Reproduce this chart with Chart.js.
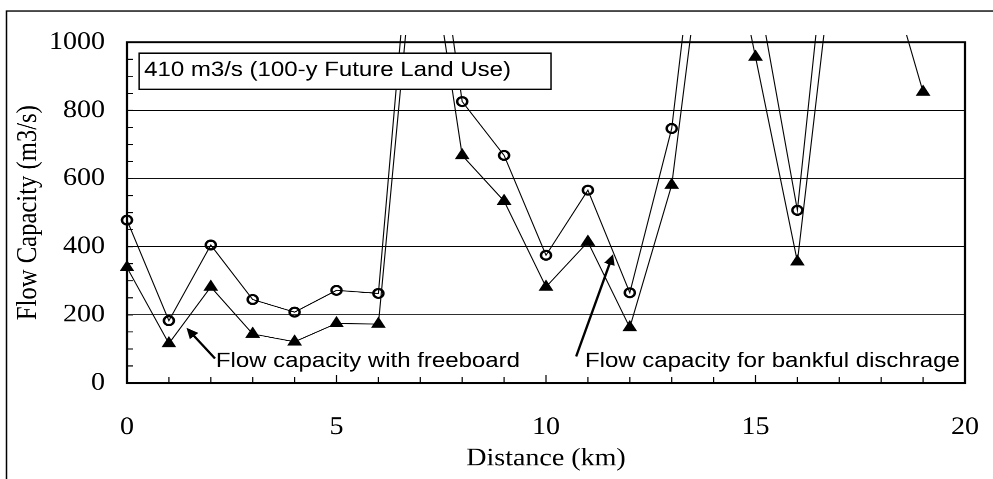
<!DOCTYPE html>
<html>
<head>
<meta charset="utf-8">
<title>Flow capacity</title>
<script src="https://cdn.jsdelivr.net/npm/chart.js@4/dist/chart.umd.min.js"></script>
<style>
  html, body { margin: 0; padding: 0; background: #fff; }
  #wrap { width: 993px; height: 479px; overflow: hidden; }
  /* the chart is laid out taller and squeezed to the window height */
  #squash { transform: scale(1, 0.8805); transform-origin: 0 0; }
</style>
</head>
<body>
<div id="wrap"><div id="squash"><canvas id="flow" width="993" height="544"></canvas></div></div>
<script>
// distance along the channel (km)
const distanceKm = [0, 1, 2, 3, 4, 5, 6, 7, 8, 9, 10, 11, 12, 13, 14, 15, 16, 17, 18, 19];
// capacity for bankful discharge (m3/s), open circles
const bankfulCapacity = [478, 183, 405, 245, 208, 272, 263, 1680, 826, 668, 375, 566, 265, 747, 1785, 1190, 507, 1673, 1500, 1100];
// capacity with freeboard (m3/s), filled triangles
const freeboardCapacity = [339, 116, 282, 144, 121, 175, 173, 1480, 668, 534, 282, 414, 163, 581, 1550, 957, 356, 1410, 1278, 854];

const yTicks = [0, 200, 400, 600, 800, 1000];
const xTicks = [0, 5, 10, 15, 20];

const noteText = "410 m3/s (100-y Future Land Use)";
const freeboardLabel = "Flow capacity with freeboard";
const bankfulLabel = "Flow capacity for bankful dischrage";

const serif = "'Liberation Serif', 'Times New Roman', serif";
const sans = "'Liberation Sans', Arial, sans-serif";

function toPoints(values) {
  return distanceKm.map((d, i) => ({ x: d, y: values[i] }));
}

function arrow(ctx, x1, y1, x2, y2) {
  const ang = Math.atan2(y2 - y1, x2 - x1);
  const head = 12, half = 5.5;
  ctx.beginPath();
  ctx.moveTo(x1, y1);
  ctx.lineTo(x2 - Math.cos(ang) * head * 0.8, y2 - Math.sin(ang) * head * 0.8);
  ctx.lineWidth = 2.4;
  ctx.stroke();
  ctx.beginPath();
  ctx.moveTo(x2, y2);
  ctx.lineTo(x2 - Math.cos(ang) * head - Math.sin(ang) * half, y2 - Math.sin(ang) * head + Math.cos(ang) * half);
  ctx.lineTo(x2 - Math.cos(ang) * head + Math.sin(ang) * half, y2 - Math.sin(ang) * head - Math.cos(ang) * half);
  ctx.closePath();
  ctx.fill();
}

// frame, inner tick marks, note box and the two arrow labels
const decorations = {
  id: 'decorations',
  beforeDraw(chart) {
    const ctx = chart.ctx;
    ctx.save();
    ctx.fillStyle = '#fff';
    ctx.fillRect(0, 0, chart.width, chart.height);
    ctx.restore();
  },
  afterDatasetsDraw(chart) {
    const { ctx, chartArea: a, scales: { x, y } } = chart;
    ctx.save();
    ctx.strokeStyle = '#000';
    ctx.fillStyle = '#000';

    // outer frame
    ctx.lineWidth = 1.5;
    ctx.beginPath();
    ctx.moveTo(6.5, chart.height);
    ctx.lineTo(6.5, 12.5);
    ctx.lineTo(chart.width, 12.5);
    ctx.stroke();

    // plot border
    ctx.lineWidth = 2.2;
    ctx.strokeRect(a.left, a.top, a.right - a.left, a.bottom - a.top);

    // tick marks inside the plot
    ctx.lineWidth = 1.2;
    ctx.beginPath();
    for (let v = 50; v < 1000; v += 50) {
      const py = y.getPixelForValue(v);
      ctx.moveTo(a.left, py);
      ctx.lineTo(a.left + 6, py);
    }
    for (let d = 1; d < 20; d++) {
      const px = x.getPixelForValue(d);
      ctx.moveTo(px, a.bottom);
      ctx.lineTo(px, a.bottom - (d % 5 === 0 ? 9 : 7));
    }
    ctx.stroke();

    // note box
    const bx = x.getPixelForValue(0.29), bx2 = x.getPixelForValue(10.12);
    const by = y.getPixelForValue(968), by2 = y.getPixelForValue(862);
    ctx.fillStyle = '#fff';
    ctx.fillRect(bx, by, bx2 - bx, by2 - by);
    ctx.lineWidth = 1.5;
    ctx.strokeRect(bx, by, bx2 - bx, by2 - by);
    ctx.fillStyle = '#000';
    ctx.font = '24px ' + sans;
    ctx.textBaseline = 'alphabetic';
    ctx.textAlign = 'left';
    ctx.fillText(noteText, bx + 5, y.getPixelForValue(900));

    // arrow labels
    ctx.fillText(freeboardLabel, x.getPixelForValue(2.12), y.getPixelForValue(46));
    ctx.fillText(bankfulLabel, x.getPixelForValue(10.93), y.getPixelForValue(46));
    arrow(ctx, x.getPixelForValue(2.1), y.getPixelForValue(72), x.getPixelForValue(1.42), y.getPixelForValue(162));
    arrow(ctx, x.getPixelForValue(10.72), y.getPixelForValue(78), x.getPixelForValue(11.6), y.getPixelForValue(378));
    ctx.restore();
  }
};

const overflow = { left: 10, top: 8, right: 10, bottom: 10 };

new Chart(document.getElementById('flow'), {
  type: 'scatter',
  data: {
    datasets: [
      {
        label: bankfulLabel,
        data: toPoints(bankfulCapacity),
        showLine: true,
        borderColor: '#000',
        borderWidth: 1.1,
        pointStyle: 'circle',
        pointRadius: 5,
        pointBorderWidth: 2.5,
        pointBorderColor: '#000',
        pointBackgroundColor: 'rgba(0,0,0,0)',
        clip: overflow
      },
      {
        label: freeboardLabel,
        data: toPoints(freeboardCapacity),
        showLine: true,
        borderColor: '#000',
        borderWidth: 1.1,
        pointStyle: 'triangle',
        pointRadius: 7.5,
        pointBorderWidth: 1,
        pointBorderColor: '#000',
        pointBackgroundColor: '#000',
        clip: overflow
      }
    ]
  },
  options: {
    responsive: false,
    devicePixelRatio: 2,
    animation: false,
    layout: { padding: { top: 48, right: 28, left: 0, bottom: 0 } },
    plugins: { legend: { display: false }, tooltip: { enabled: false } },
    scales: {
      x: {
        type: 'linear',
        min: 0,
        max: 20,
        afterFit: s => { s.height = 109; s.paddingLeft = 0; s.paddingRight = 0; },
        afterBuildTicks: s => { s.ticks = xTicks.map(v => ({ value: v })); },
        grid: { display: false, drawTicks: false },
        border: { display: false },
        ticks: { color: '#000', padding: 34, maxRotation: 0, callback: v => String(v), font: { family: serif, size: 28 } },
        title: { display: true, text: 'Distance (km)', color: '#000', padding: { top: 0, bottom: 6 }, font: { family: serif, size: 28 } }
      },
      y: {
        min: 0,
        max: 1000,
        afterFit: s => { s.width = 127; },
        afterBuildTicks: s => { s.ticks = yTicks.map(v => ({ value: v })); },
        grid: { color: '#000', lineWidth: 1, drawTicks: false },
        border: { display: false },
        ticks: { color: '#000', padding: 22, callback: v => String(v), font: { family: serif, size: 28 } },
        title: { display: true, text: 'Flow Capacity (m3/s)', color: '#000', padding: { top: 12, bottom: 0 }, font: { family: serif, size: 28 } }
      }
    }
  },
  plugins: [decorations]
});
</script>
</body>
</html>
